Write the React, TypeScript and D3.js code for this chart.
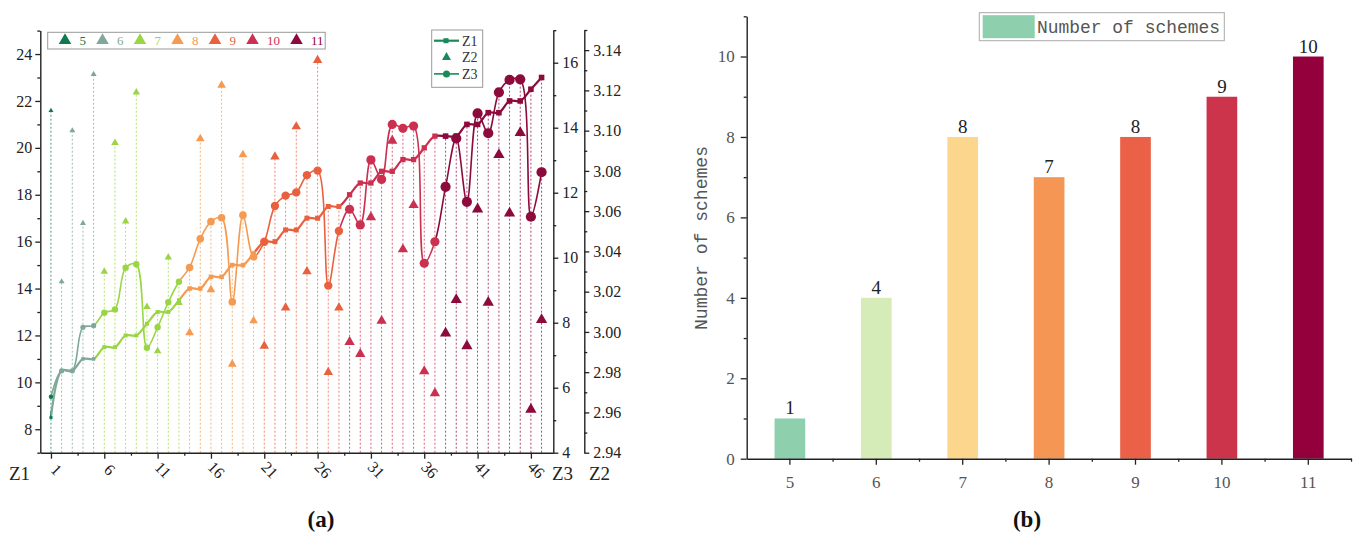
import { useEffect, useRef } from "react";
import * as d3 from "d3";

// groups = number of variables in a scheme, counts = schemes per group
const groupNames = ["5", "6", "7", "8", "9", "10", "11"];
const schemeCounts = [1, 4, 8, 7, 8, 9, 10];

// (a) values per scheme, 1..47
const z1 = [
  8.5, 10.5, 10.5, 11, 11, 11.5, 11.5, 12, 12, 12.5, 13, 13, 13.5, 14, 14, 14.5,
  14.5, 15, 15, 15.5, 16, 16, 16.5, 16.5, 17, 17, 17.5, 17.5, 18, 18.5, 18.5, 19,
  19, 19.5, 19.5, 20, 20.5, 20.5, 20.5, 21, 21, 21.5, 21.5, 22, 22, 22.5, 23,
];
const z2 = [
  3.11, 3.025, 3.1, 3.054, 3.128, 3.03, 3.094, 3.055, 3.119, 3.0125, 2.9905,
  3.037, 3.0145, 2.9996, 3.096, 3.021, 3.1225, 2.984, 3.088, 3.0055, 2.993, 3.087,
  3.012, 3.102, 3.03, 3.135, 2.98, 3.012, 2.995, 2.989, 3.057, 3.0055, 3.095,
  3.041, 3.063, 2.9805, 2.9695, 2.9993, 3.016, 2.993, 3.061, 3.0146, 3.088, 3.059,
  3.099, 2.9615, 3.006,
];
const z3 = [
  5.72, 6.52, 6.52, 7.86, 7.91, 8.31, 8.41, 9.69, 9.8, 7.23, 7.86, 8.63, 9.26, 9.7,
  10.58, 11.11, 11.23, 8.64, 11.31, 10.03, 10.49, 11.59, 11.91, 12.01, 12.54,
  12.68, 9.14, 10.82, 11.49, 11.01, 13.01, 12.41, 14.1, 13.98, 14.05, 9.83, 10.49,
  12.18, 13.67, 11.72, 14.44, 13.83, 15.09, 15.47, 15.49, 11.26, 12.63,
];

const xTicks = [1, 6, 11, 16, 21, 26, 31, 36, 41, 46];
const xMinor = [3.5, 8.5, 13.5, 18.5, 23.5, 28.5, 33.5, 38.5, 43.5];
const z1Ticks = [8, 10, 12, 14, 16, 18, 20, 22, 24];
const z1Minor = [7, 9, 11, 13, 15, 17, 19, 21, 23, 25];
const z3Ticks = [4, 6, 8, 10, 12, 14, 16];
const z3Minor = [5, 7, 9, 11, 13, 15, 17];
const z2Ticks = [2.94, 2.96, 2.98, 3.0, 3.02, 3.04, 3.06, 3.08, 3.1, 3.12, 3.14];
const z2Minor = [2.95, 2.97, 2.99, 3.01, 3.03, 3.05, 3.07, 3.09, 3.11, 3.13, 3.15];
const barTicks = [0, 2, 4, 6, 8, 10];
const barMinor = [1, 3, 5, 7, 9, 11];

const lineColors = ["#0f7a4f", "#7fa898", "#9ad545", "#f59a50", "#e9603f", "#cc3050", "#8c0a3c"];
const barColors = ["#8ecfae", "#d5ebb8", "#fdd68e", "#f69654", "#ea6148", "#cb344b", "#94003c"];
const legendGreen = "#1a8a5c";

// marker sizes grow with group
const triSide = [5, 6, 7.5, 8.7, 9.5, 10.3, 11.3];
const circR = [2.2, 2.6, 3.2, 3.8, 4.2, 4.6, 5.1];
const sqSide = [3, 3.5, 4, 4.5, 5, 5.3, 5.6];

export default function App() {
  const ref = useRef<SVGSVGElement>(null);

  useEffect(() => {
    document.body.style.margin = "0";
    const svg = d3.select(ref.current);
    svg.selectAll("*").remove();
    const serif = "'Liberation Serif', 'Times New Roman', serif";
    const mono = "'Liberation Mono', 'Courier New', monospace";
    const axisColor = "#222";

    const groupOf: number[] = schemeCounts.flatMap((c, g) => Array(c).fill(g));
    const pts = z1.map((v, i) => ({ n: i + 1, z1: v, z2: z2[i], z3: z3[i], g: groupOf[i] }));

    // ---------- (a) ----------
    const bottom = 452.7;
    const x = d3.scaleLinear().domain([0, 48.1]).range([40.3, 553.3]);
    const y1 = d3.scaleLinear().domain([7, 25]).range([bottom, 30.6]);
    const y3 = d3.scaleLinear().domain([4, 17]).range([bottom, 30.2]);
    const y2 = d3.scaleLinear().domain([2.94, 3.15]).range([bottom, 30]);

    const defs = svg.append("defs");
    let start = 1;
    schemeCounts.forEach((c, g) => {
      const end = start + c - 1;
      const x0 = g === 0 ? 0 : x(start - 1);
      const x1 = g === schemeCounts.length - 1 ? 600 : x(end);
      defs
        .append("clipPath")
        .attr("id", `seg${g}`)
        .append("rect")
        .attr("x", x0)
        .attr("y", 0)
        .attr("width", x1 - x0)
        .attr("height", 538);
      start = end + 1;
    });

    const a = svg.append("g");

    // drop lines
    a.append("g")
      .selectAll("line")
      .data(pts)
      .join("line")
      .attr("x1", (d) => x(d.n))
      .attr("x2", (d) => x(d.n))
      .attr("y1", bottom)
      .attr("y2", (d) => Math.min(y1(d.z1), y2(d.z2), y3(d.z3)))
      .attr("stroke", (d) => lineColors[d.g])
      .attr("stroke-width", 1)
      .attr("stroke-dasharray", "2,2")
      .attr("opacity", 0.75);

    const lineZ1 = d3
      .line<any>()
      .x((d) => x(d.n))
      .y((d) => y1(d.z1))
      .curve(d3.curveCatmullRom);
    const lineZ3 = d3
      .line<any>()
      .x((d) => x(d.n))
      .y((d) => y3(d.z3))
      .curve(d3.curveCatmullRom);

    groupNames.forEach((_, g) => {
      a.append("path")
        .datum(pts)
        .attr("d", lineZ1)
        .attr("fill", "none")
        .attr("stroke", lineColors[g])
        .attr("stroke-width", 2.2)
        .attr("clip-path", `url(#seg${g})`);
      a.append("path")
        .datum(pts)
        .attr("d", lineZ3)
        .attr("fill", "none")
        .attr("stroke", lineColors[g])
        .attr("stroke-width", 1.6)
        .attr("clip-path", `url(#seg${g})`);
    });

    a.append("g")
      .selectAll("path")
      .data(pts)
      .join("path")
      .attr("transform", (d) => `translate(${x(d.n)},${y2(d.z2)})`)
      .attr("d", (d) => d3.symbol(d3.symbolTriangle, 0.433 * triSide[d.g] ** 2)())
      .attr("fill", (d) => lineColors[d.g]);

    a.append("g")
      .selectAll("rect")
      .data(pts)
      .join("rect")
      .attr("x", (d) => x(d.n) - sqSide[d.g] / 2)
      .attr("y", (d) => y1(d.z1) - sqSide[d.g] / 2)
      .attr("width", (d) => sqSide[d.g])
      .attr("height", (d) => sqSide[d.g])
      .attr("fill", (d) => lineColors[d.g]);

    a.append("g")
      .selectAll("circle")
      .data(pts)
      .join("circle")
      .attr("cx", (d) => x(d.n))
      .attr("cy", (d) => y3(d.z3))
      .attr("r", (d) => circR[d.g])
      .attr("fill", (d) => lineColors[d.g]);

    const styleAxis = (g: any, size = 16, color = axisColor) => {
      g.attr("font-family", serif);
      g.selectAll("path").attr("stroke", axisColor).attr("stroke-width", 1.4);
      g.selectAll("line").attr("stroke", axisColor).attr("stroke-width", 1.3);
      g.selectAll("text").attr("font-family", serif).attr("font-size", size).attr("fill", color);
    };

    // left Z1
    a.append("g")
      .attr("transform", `translate(${x(0)},0)`)
      .call(d3.axisLeft(y1).tickValues(z1Ticks).tickSize(5).tickSizeOuter(0).tickPadding(3))
      .call((g) => styleAxis(g));
    a.append("g")
      .attr("transform", `translate(${x(0)},0)`)
      .call(d3.axisLeft(y1).tickValues(z1Minor).tickSize(3).tickFormat(() => ""))
      .call((g) => {
        g.select(".domain").remove();
        styleAxis(g);
      });

    // right Z3
    const xZ3 = x.range()[1];
    a.append("g")
      .attr("transform", `translate(${xZ3},0)`)
      .call(d3.axisRight(y3).tickValues(z3Ticks).tickSize(5).tickSizeOuter(0).tickPadding(4))
      .call((g) => styleAxis(g));
    a.append("g")
      .attr("transform", `translate(${xZ3},0)`)
      .call(d3.axisRight(y3).tickValues(z3Minor).tickSize(3).tickFormat(() => ""))
      .call((g) => {
        g.select(".domain").remove();
        styleAxis(g);
      });

    // outer right Z2
    const xZ2 = 584.3;
    a.append("g")
      .attr("transform", `translate(${xZ2},0)`)
      .call(
        d3
          .axisRight(y2)
          .tickValues(z2Ticks)
          .tickSize(5)
          .tickSizeOuter(0)
          .tickPadding(4)
          .tickFormat(d3.format(".2f"))
      )
      .call((g) => styleAxis(g));
    a.append("g")
      .attr("transform", `translate(${xZ2},0)`)
      .call(d3.axisRight(y2).tickValues(z2Minor).tickSize(3).tickFormat(() => ""))
      .call((g) => {
        g.select(".domain").remove();
        styleAxis(g);
      });

    // bottom
    a.append("g")
      .attr("transform", `translate(0,${bottom})`)
      .call(d3.axisBottom(x).tickValues(xTicks).tickSize(6).tickSizeOuter(0))
      .call((g) => {
        styleAxis(g);
        g.selectAll("text")
          .attr("text-anchor", "middle")
          .attr("dy", "0.35em")
          .attr("transform", "translate(5,17) rotate(45)")
          .attr("y", 0);
      });
    a.append("g")
      .attr("transform", `translate(0,${bottom})`)
      .call(d3.axisBottom(x).tickValues(xMinor).tickSize(3).tickFormat(() => ""))
      .call((g) => {
        g.select(".domain").remove();
        styleAxis(g);
      });

    const title = (t: string, tx: number) =>
      a.append("text")
        .attr("x", tx)
        .attr("y", 480)
        .attr("font-family", serif)
        .attr("font-size", 19)
        .attr("fill", axisColor)
        .text(t);
    title("Z1", 9);
    title("Z3", 552);
    title("Z2", 589);

    a.append("text")
      .attr("x", 321)
      .attr("y", 527)
      .attr("text-anchor", "middle")
      .attr("font-family", serif)
      .attr("font-weight", "bold")
      .attr("font-size", 23)
      .attr("fill", "#111")
      .text("(a)");

    // group legend
    const lg = a.append("g");
    lg.append("rect")
      .attr("x", 47.7)
      .attr("y", 32.3)
      .attr("width", 277.5)
      .attr("height", 16.7)
      .attr("fill", "#fff")
      .attr("stroke", "#999")
      .attr("stroke-width", 1);
    let cx = 65;
    groupNames.forEach((name, g) => {
      lg.append("path")
        .attr("transform", `translate(${cx},40.5)`)
        .attr("d", d3.symbol(d3.symbolTriangle, 0.433 * 12.5 ** 2)())
        .attr("fill", lineColors[g]);
      const w = name.length * 6.5;
      lg.append("text")
        .attr("x", cx + 14.5)
        .attr("y", 40.7)
        .attr("dy", "0.35em")
        .attr("font-family", serif)
        .attr("font-size", 13)
        .attr("fill", lineColors[g])
        .text(name);
      cx += 14.5 + w + 16.5;
    });

    // series legend
    const sl = a.append("g");
    sl.append("rect")
      .attr("x", 431.7)
      .attr("y", 30)
      .attr("width", 51)
      .attr("height", 57.3)
      .attr("fill", "#fff")
      .attr("stroke", "#999")
      .attr("stroke-width", 1);
    const rows = ["Z1", "Z2", "Z3"];
    rows.forEach((r, i) => {
      const ry = 40.7 + i * 16.6;
      if (r !== "Z2") {
        sl.append("line")
          .attr("x1", 434)
          .attr("x2", 459)
          .attr("y1", ry)
          .attr("y2", ry)
          .attr("stroke", legendGreen)
          .attr("stroke-width", r === "Z1" ? 2.2 : 1.6);
      }
      if (r === "Z1")
        sl.append("rect").attr("x", 443.5).attr("y", ry - 2.5).attr("width", 5).attr("height", 5).attr("fill", legendGreen);
      if (r === "Z2")
        sl.append("path")
          .attr("transform", `translate(446.5,${ry})`)
          .attr("d", d3.symbol(d3.symbolTriangle, 0.433 * 9 ** 2)())
          .attr("fill", legendGreen);
      if (r === "Z3") sl.append("circle").attr("cx", 446.5).attr("cy", ry).attr("r", 3.5).attr("fill", legendGreen);
      sl.append("text")
        .attr("x", 462)
        .attr("y", ry)
        .attr("dy", "0.35em")
        .attr("font-family", serif)
        .attr("font-size", 14)
        .attr("fill", "#333")
        .text(r);
    });

    // ---------- (b) ----------
    const bBottom = 458.7;
    const xb = d3
      .scaleBand<string>()
      .domain(groupNames)
      .range([746.7, 1351.5])
      .paddingInner(0.645)
      .paddingOuter(0.3225);
    const yb = d3.scaleLinear().domain([0, 11]).range([bBottom, 16.3]);
    const b = svg.append("g");

    b.append("g")
      .selectAll("rect")
      .data(schemeCounts)
      .join("rect")
      .attr("x", (_, i) => xb(groupNames[i])!)
      .attr("y", (d) => yb(d))
      .attr("width", xb.bandwidth())
      .attr("height", (d) => bBottom - yb(d))
      .attr("fill", (_, i) => barColors[i]);

    b.append("g")
      .selectAll("text")
      .data(schemeCounts)
      .join("text")
      .attr("x", (_, i) => xb(groupNames[i])! + xb.bandwidth() / 2)
      .attr("y", (d) => yb(d) - 4)
      .attr("text-anchor", "middle")
      .attr("font-family", serif)
      .attr("font-size", 19)
      .attr("fill", "#222")
      .text((d) => d);

    b.append("g")
      .attr("transform", `translate(746.7,0)`)
      .call(d3.axisLeft(yb).tickValues(barTicks).tickSize(6).tickSizeOuter(0).tickPadding(6))
      .call((g) => styleAxis(g, 17, "#555"));
    b.append("g")
      .attr("transform", `translate(746.7,0)`)
      .call(d3.axisLeft(yb).tickValues(barMinor).tickSize(3).tickFormat(() => ""))
      .call((g) => {
        g.select(".domain").remove();
        styleAxis(g);
      });

    b.append("g")
      .attr("transform", `translate(0,${bBottom})`)
      .call(d3.axisBottom(xb).tickSize(6).tickSizeOuter(0).tickPadding(11))
      .call((g) => styleAxis(g, 17, "#555"));
    // minor ticks at band edges
    const step = xb.step();
    b.append("g")
      .selectAll("line")
      .data(groupNames)
      .join("line")
      .attr("x1", (d) => xb(d)! + xb.bandwidth() / 2 + step / 2)
      .attr("x2", (d) => xb(d)! + xb.bandwidth() / 2 + step / 2)
      .attr("y1", bBottom)
      .attr("y2", bBottom + 3)
      .attr("stroke", axisColor)
      .attr("stroke-width", 1.3);

    b.append("text")
      .attr("transform", "translate(707,238) rotate(-90)")
      .attr("text-anchor", "middle")
      .attr("font-family", mono)
      .attr("font-size", 18)
      .attr("textLength", 184)
      .attr("lengthAdjust", "spacingAndGlyphs")
      .attr("fill", "#555")
      .text("Number of schemes");

    b.append("rect")
      .attr("x", 979.3)
      .attr("y", 12.7)
      .attr("width", 245)
      .attr("height", 28)
      .attr("fill", "#fff")
      .attr("stroke", "#aaa")
      .attr("stroke-width", 1);
    b.append("rect")
      .attr("x", 982.7)
      .attr("y", 15.2)
      .attr("width", 52)
      .attr("height", 23)
      .attr("fill", barColors[0]);
    b.append("text")
      .attr("x", 1037)
      .attr("y", 27)
      .attr("dy", "0.35em")
      .attr("font-family", mono)
      .attr("font-size", 18)
      .attr("textLength", 183)
      .attr("lengthAdjust", "spacingAndGlyphs")
      .attr("fill", "#555")
      .text("Number of schemes");

    b.append("text")
      .attr("x", 1027)
      .attr("y", 527)
      .attr("text-anchor", "middle")
      .attr("font-family", serif)
      .attr("font-weight", "bold")
      .attr("font-size", 23)
      .attr("fill", "#111")
      .text("(b)");
  }, []);

  return <svg ref={ref} width={1357} height={538} style={{ display: "block", background: "#fff" }} />;
}
